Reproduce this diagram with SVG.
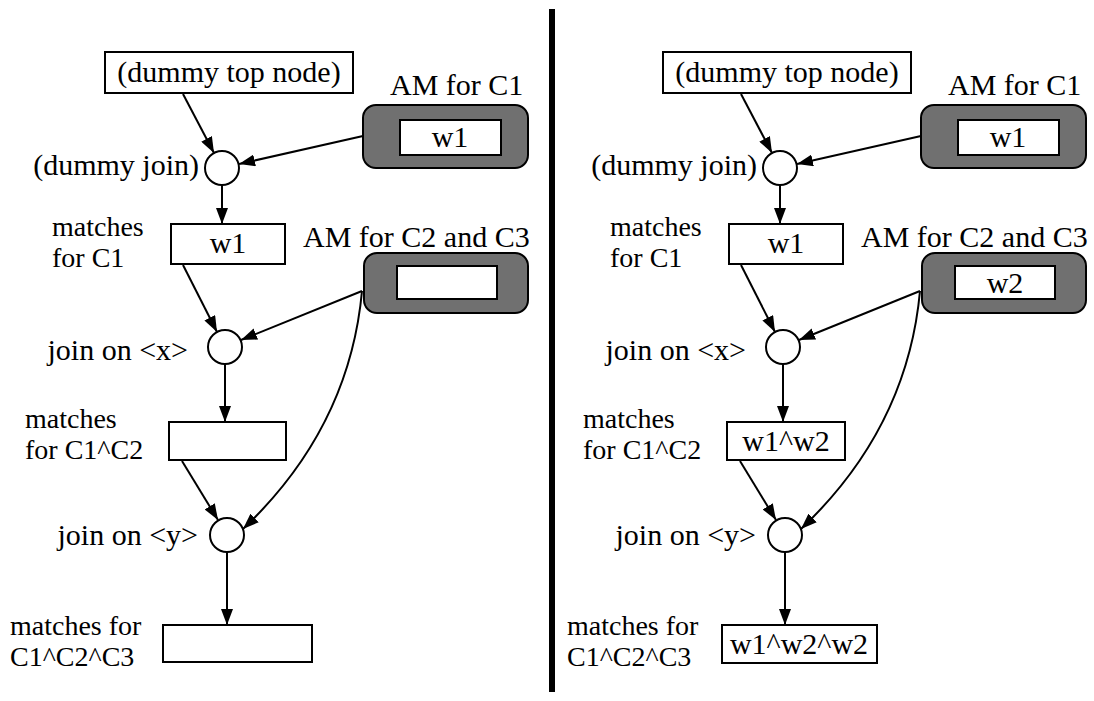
<svg xmlns="http://www.w3.org/2000/svg" width="1094" height="701" viewBox="0 0 1094 701" font-family="'Liberation Serif', 'Times New Roman', serif">
<style>
text{font-family:"Liberation Serif","Times New Roman",serif;font-size:30px;fill:#000}
text.lb{font-size:28px}
.c{text-anchor:middle}
.e{text-anchor:end}
.box{fill:#fff;stroke:#000;stroke-width:2}
.am{fill:#707070;stroke:#000;stroke-width:2}
.j{fill:#fff;stroke:#000;stroke-width:2}
.ln{fill:none;stroke:#000;stroke-width:2;marker-end:url(#ah)}
</style>
<defs>
<marker id="ah" markerUnits="userSpaceOnUse" markerWidth="17" markerHeight="12" refX="16" refY="6" orient="auto">
<path d="M0,0 L16,6 L0,12 z" fill="#000"/>
</marker>
<g id="panel">
<g id="connectors">
<line class="ln" x1="183" y1="94" x2="214" y2="153"/>
<line class="ln" x1="363" y1="136" x2="239" y2="164"/>
<line class="ln" x1="222" y1="185" x2="222" y2="224"/>
<line class="ln" x1="183" y1="265" x2="217" y2="332"/>
<line class="ln" x1="362" y1="291" x2="241" y2="340"/>
<line class="ln" x1="225" y1="364" x2="225" y2="422"/>
<line class="ln" x1="182" y1="461" x2="218" y2="520"/>
<path class="ln" d="M362,291 C352,400 300,475 243,529"/>
<line class="ln" x1="227" y1="552" x2="227" y2="625"/>
</g>
</g>
</defs>
<rect x="549" y="9" width="6" height="683" fill="#000"/>

<!-- LEFT PANEL -->
<use href="#panel"/>
<g id="L-top"><rect class="box" x="105" y="52" width="248" height="41"/><text class="c" x="229" y="82">(dummy top node)</text></g>
<g id="L-am1"><text x="390" y="95">AM for C1</text><rect class="am" x="363" y="105" width="165" height="63" rx="13"/><rect class="box" x="400" y="120" width="101" height="35"/><text class="c" x="450" y="147">w1</text></g>
<g id="L-djoin"><circle class="j" cx="222" cy="168" r="17"/><text class="e" x="199" y="175">(dummy join)</text></g>
<g id="L-m1"><rect class="box" x="171" y="224" width="114" height="40"/><text class="c" x="228" y="253">w1</text><text class="lb" x="52" y="236">matches<tspan x="52" dy="31">for C1</tspan></text></g>
<g id="L-am2"><text x="303" y="247">AM for C2 and C3</text><rect class="am" x="364" y="253" width="164" height="60" rx="13"/><rect class="box" x="397" y="266" width="100" height="33"/></g>
<g id="L-jx"><circle class="j" cx="225" cy="347" r="17"/><text class="e" x="188" y="360">join on &lt;x&gt;</text></g>
<g id="L-m12"><rect class="box" x="169" y="422" width="117" height="38"/><text class="lb" x="25" y="428">matches<tspan x="25" dy="31">for C1^C2</tspan></text></g>
<g id="L-jy"><circle class="j" cx="227" cy="535" r="17"/><text class="e" x="198" y="545">join on &lt;y&gt;</text></g>
<g id="L-m123"><rect class="box" x="163" y="625" width="149" height="37"/><text class="lb" x="10" y="635">matches for<tspan x="10" dy="31">C1^C2^C3</tspan></text></g>

<!-- RIGHT PANEL -->
<use href="#panel" x="558"/>
<g id="R-top"><rect class="box" x="663" y="52" width="248" height="41"/><text class="c" x="787" y="82">(dummy top node)</text></g>
<g id="R-am1"><text x="948" y="95">AM for C1</text><rect class="am" x="921" y="105" width="165" height="63" rx="13"/><rect class="box" x="958" y="120" width="101" height="35"/><text class="c" x="1008" y="147">w1</text></g>
<g id="R-djoin"><circle class="j" cx="780" cy="168" r="17"/><text class="e" x="757" y="175">(dummy join)</text></g>
<g id="R-m1"><rect class="box" x="729" y="224" width="114" height="40"/><text class="c" x="786" y="253">w1</text><text class="lb" x="610" y="236">matches<tspan x="610" dy="31">for C1</tspan></text></g>
<g id="R-am2"><text x="861" y="247">AM for C2 and C3</text><rect class="am" x="922" y="253" width="164" height="60" rx="13"/><rect class="box" x="955" y="266" width="100" height="33"/><text class="c" x="1005" y="293">w2</text></g>
<g id="R-jx"><circle class="j" cx="783" cy="347" r="17"/><text class="e" x="746" y="360">join on &lt;x&gt;</text></g>
<g id="R-m12"><rect class="box" x="727" y="422" width="118" height="38"/><text class="c" x="786" y="451">w1^w2</text><text class="lb" x="583" y="428">matches<tspan x="583" dy="31">for C1^C2</tspan></text></g>
<g id="R-jy"><circle class="j" cx="785" cy="535" r="17"/><text class="e" x="756" y="545">join on &lt;y&gt;</text></g>
<g id="R-m123"><rect class="box" x="722" y="625" width="155" height="38"/><text class="c" x="799" y="654">w1^w2^w2</text><text class="lb" x="567" y="635">matches for<tspan x="567" dy="31">C1^C2^C3</tspan></text></g>
</svg>
